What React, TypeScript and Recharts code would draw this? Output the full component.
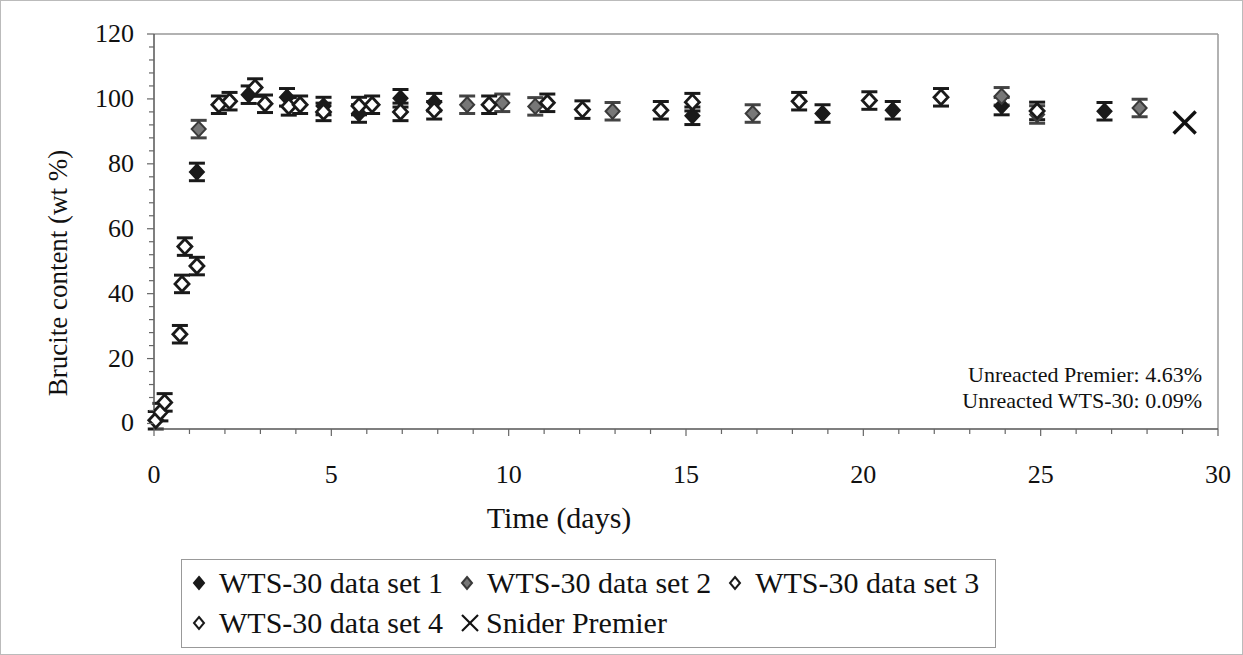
import { ScatterChart, Scatter, XAxis, YAxis, ErrorBar, ReferenceLine, Label } from 'recharts';

// time (days) and brucite content (wt %)
const set1Days = [1.21, 2.67, 3.75, 4.78, 5.78, 6.95, 7.9, 15.18, 18.85, 20.83, 23.9, 26.8];
const set1Values = [77.5, 101.3, 100.5, 97.8, 95.5, 100.2, 99, 94.8, 95.5, 96.5, 97.8, 96.2];

const set2Days = [1.26, 8.83, 9.82, 10.75, 12.93, 16.88, 23.9, 24.9, 27.79];
const set2Values = [90.7, 98.2, 98.8, 97.7, 96.2, 95.5, 100.8, 95.2, 97.2];

const set3Days = [0.05, 0.18, 0.73, 0.79, 0.87, 1.21, 1.83, 2.13, 2.85, 3.13, 3.8, 4.12, 4.78, 5.78, 6.15, 6.95, 7.9];
const set3Values = [1, 3.5, 27.5, 43, 54.5, 48.5, 98.2, 99.3, 103.5, 98.5, 97.7, 98.2, 96, 97.8, 98.2, 96, 96.5];

const set4Days = [0.3, 9.45, 11.09, 12.08, 14.29, 15.18, 18.19, 20.17, 22.19, 24.9];
const set4Values = [6.5, 98.2, 98.8, 96.7, 96.5, 99, 99.3, 99.5, 100.5, 96.3];

const sniderDays = [29.06];
const sniderValues = [92.7];

const errorWt = 2.7;

const xMajorTicks = [0, 5, 10, 15, 20, 25, 30];
const yMajorTicks = [0, 20, 40, 60, 80, 100, 120];
const xAllTicks = Array.from({ length: 31 }, (_, i) => i);
const yAllTicks = Array.from({ length: 31 }, (_, i) => i * 4);

const FONT = 'Liberation Serif, Times New Roman, DejaVu Serif, serif';

const toPoints = (days: number[], values: number[]) =>
  days.map((d, i) => ({ day: d, wt: values[i], err: errorWt }));

const diamond = (fill: string, stroke: string, sw: number) => (props: any) => {
  const { cx, cy } = props;
  if (cx == null || cy == null) return <g />;
  return (
    <path
      d={`M${cx},${cy - 7.5} L${cx + 7},${cy} L${cx},${cy + 7.5} L${cx - 7},${cy} Z`}
      fill={fill}
      stroke={stroke}
      strokeWidth={sw}
    />
  );
};

const cross = (props: any) => {
  const { cx, cy } = props;
  if (cx == null || cy == null) return <g />;
  return (
    <g stroke="#111" strokeWidth={3.5}>
      <line x1={cx - 11} y1={cy - 11} x2={cx + 11} y2={cy + 11} />
      <line x1={cx - 11} y1={cy + 11} x2={cx + 11} y2={cy - 11} />
    </g>
  );
};

const XTick = ({ x, y, payload }: any) => {
  const major = xMajorTicks.includes(payload.value);
  return (
    <g>
      <line x1={x} x2={x} y1={y} y2={y + (major ? 7 : 5)} stroke="#666" strokeWidth={1.2} />
      {major && (
        <text x={x} y={y + 54} textAnchor="middle" style={{ fontFamily: FONT }} fontSize={26} fill="#111">
          {payload.value}
        </text>
      )}
    </g>
  );
};

const YTick = ({ x, y, payload }: any) => {
  const major = yMajorTicks.includes(payload.value);
  return (
    <g>
      <line x1={x - (major ? 7 : 5)} x2={x} y1={y} y2={y} stroke="#666" strokeWidth={1.2} />
      {major && (
        <text x={x - 20} y={y + 8} textAnchor="end" style={{ fontFamily: FONT }} fontSize={26} fill="#111">
          {payload.value}
        </text>
      )}
    </g>
  );
};

const LegendDiamond = ({ fill, stroke }: { fill: string; stroke: string }) => (
  <svg width={14} height={16} style={{ marginRight: 13, flexShrink: 0 }}>
    <path d="M7,2 L12,8 L7,14 L2,8 Z" fill={fill} stroke={stroke} strokeWidth={2} />
  </svg>
);

const LegendCross = () => (
  <svg width={20} height={20} style={{ marginRight: 6, flexShrink: 0 }}>
    <g stroke="#111" strokeWidth={2.2}>
      <line x1={2} y1={2} x2={18} y2={18} />
      <line x1={2} y1={18} x2={18} y2={2} />
    </g>
  </svg>
);

export default function App() {
  const item = {
    display: 'flex',
    alignItems: 'center',
    marginRight: 17,
    whiteSpace: 'nowrap',
    flexShrink: 0,
  } as const;
  return (
    <div
      style={{
        position: 'absolute',
        left: 0,
        top: 0,
        width: 1241,
        height: 653,
        border: '1px solid #bbb',
        background: '#fff',
        fontFamily: FONT,
      }}
    >
      <ScatterChart width={1243} height={655} margin={{ top: 33, right: 26, bottom: 167, left: 0 }}>
        <XAxis
          type="number"
          dataKey="day"
          domain={[0, 30]}
          ticks={xAllTicks}
          interval={0}
          tick={<XTick />}
          tickLine={false}
          tickSize={0}
          tickMargin={0}
          height={60}
          axisLine={{ stroke: '#555', strokeWidth: 1.5 }}
        >
          <Label
            content={() => (
              <text x={558} y={527} textAnchor="middle" style={{ fontFamily: FONT }} fontSize={30} fill="#111">
                Time (days)
              </text>
            )}
          />
        </XAxis>
        <YAxis
          type="number"
          dataKey="wt"
          domain={[0, 120]}
          ticks={yAllTicks}
          interval={0}
          tick={<YTick />}
          tickLine={false}
          tickSize={0}
          tickMargin={0}
          width={153}
          axisLine={{ stroke: '#555', strokeWidth: 1.5 }}
        >
          <Label
            content={() => (
              <text
                x={66}
                y={272}
                textAnchor="middle"
                style={{ fontFamily: FONT }}
                fontSize={27}
                fill="#111"
                transform="rotate(-90, 66, 272)"
              >
                Brucite content (wt %)
              </text>
            )}
          />
        </YAxis>
        <ReferenceLine y={120} stroke="#999" strokeWidth={1.5} />
        <ReferenceLine x={30} stroke="#999" strokeWidth={1.5} />

        <Scatter name="WTS-30 data set 1" data={toPoints(set1Days, set1Values)} shape={diamond('#1a1a1a', '#1a1a1a', 2)} isAnimationActive={false}>
          <ErrorBar dataKey="err" direction="y" width={8} strokeWidth={3} stroke="#1a1a1a" />
        </Scatter>
        <Scatter name="WTS-30 data set 2" data={toPoints(set2Days, set2Values)} shape={diamond('#777', '#3a3a3a', 2)} isAnimationActive={false}>
          <ErrorBar dataKey="err" direction="y" width={8} strokeWidth={3} stroke="#444" />
        </Scatter>
        <Scatter name="WTS-30 data set 3" data={toPoints(set3Days, set3Values)} shape={diamond('#fff', '#1a1a1a', 2.8)} isAnimationActive={false}>
          <ErrorBar dataKey="err" direction="y" width={8} strokeWidth={3} stroke="#1a1a1a" />
        </Scatter>
        <Scatter name="WTS-30 data set 4" data={toPoints(set4Days, set4Values)} shape={diamond('#fff', '#1a1a1a', 2.8)} isAnimationActive={false}>
          <ErrorBar dataKey="err" direction="y" width={8} strokeWidth={3} stroke="#1a1a1a" />
        </Scatter>
        <Scatter name="Snider Premier" data={toPoints(sniderDays, sniderValues)} shape={cross} isAnimationActive={false} />
      </ScatterChart>

      <div
        style={{
          position: 'absolute',
          right: 1243 - 1203,
          top: 361,
          textAlign: 'right',
          fontSize: 22,
          lineHeight: '26px',
          color: '#111',
        }}
      >
        <div>Unreacted Premier: 4.63%</div>
        <div>Unreacted WTS-30: 0.09%</div>
      </div>

      <div
        style={{
          position: 'absolute',
          left: 180,
          top: 558,
          width: 815,
          height: 89,
          border: '1px solid #999',
          boxSizing: 'border-box',
          padding: '3px 0 0 10px',
          fontSize: 30,
          color: '#111',
          lineHeight: '40px',
        }}
      >
        <div style={{ display: 'flex', flexWrap: 'nowrap' }}>
          <span style={item}><LegendDiamond fill="#1a1a1a" stroke="#1a1a1a" />WTS-30 data set 1</span>
          <span style={item}><LegendDiamond fill="#777" stroke="#3a3a3a" />WTS-30 data set 2</span>
          <span style={item}><LegendDiamond fill="#fff" stroke="#1a1a1a" />WTS-30 data set 3</span>
        </div>
        <div style={{ display: 'flex', flexWrap: 'nowrap' }}>
          <span style={item}><LegendDiamond fill="#fff" stroke="#1a1a1a" />WTS-30 data set 4</span>
          <span style={item}><LegendCross />Snider Premier</span>
        </div>
      </div>
    </div>
  );
}
